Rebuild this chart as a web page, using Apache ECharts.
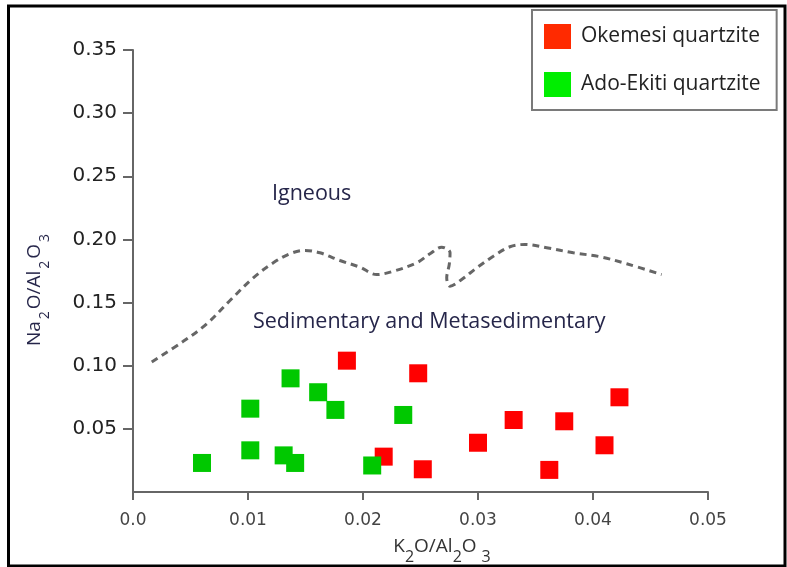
<!DOCTYPE html>
<html><head><meta charset="utf-8">
<script src="https://cdn.jsdelivr.net/npm/echarts@6/dist/echarts.min.js"></script>
<style>html,body{margin:0;padding:0;background:#fff}#c{width:787px;height:567px}</style>
</head><body><div id="c"></div>
<script>
// ---- data ----
const seriesNames = ['Okemesi quartzite', 'Ado-Ekiti quartzite'];
const okemesiX = [0.0186, 0.0218, 0.0248, 0.0252, 0.0300, 0.0331, 0.0375, 0.0362, 0.0410, 0.0423];
const okemesiY = [0.104, 0.028, 0.094, 0.018, 0.039, 0.057, 0.056, 0.0175, 0.037, 0.075];
const adoX = [0.0060, 0.0102, 0.0102, 0.0137, 0.0131, 0.0141, 0.0161, 0.0176, 0.0208, 0.0235];
const adoY = [0.023, 0.066, 0.033, 0.090, 0.029, 0.023, 0.079, 0.065, 0.021, 0.061];
const boundaryX = [0.00163, 0.00437, 0.00641, 0.00843, 0.01046, 0.0122, 0.01365, 0.01496, 0.01626, 0.018, 0.01974, 0.02119, 0.02263, 0.02467, 0.02583, 0.02684, 0.02757, 0.0275, 0.02728, 0.02757, 0.02858, 0.02989, 0.03133, 0.03278, 0.03409, 0.03597, 0.03829, 0.04061, 0.04293, 0.04597];
const boundaryY = [0.1029, 0.1193, 0.1331, 0.1516, 0.1696, 0.1815, 0.1887, 0.1913, 0.1894, 0.1833, 0.178, 0.1722, 0.1748, 0.1815, 0.1887, 0.1939, 0.1894, 0.1802, 0.1696, 0.1629, 0.1683, 0.1775, 0.1867, 0.1942, 0.196, 0.1934, 0.1894, 0.1863, 0.1807, 0.1722];
const fieldLabels = ['Igneous', 'Sedimentary and Metasedimentary'];
const xAxisTitle = '{m|K}{s|2}{m|O/Al}{s|2}{m|O}{t|3}';
const yAxisTitle = '{m|Na}{s|2}{m|O/Al}{s|2}{m|O}{s|3}';

const zip = (xs, ys) => xs.map((x, i) => [x, ys[i]]);

const chart = echarts.init(document.getElementById('c'), null, {renderer: 'canvas'});
const navy = '#26264a';
chart.setOption({
  animation: false,
  backgroundColor: '#ffffff',
  grid: {left: 133, right: 79, top: 50, bottom: 75, containLabel: false, outerBoundsMode: 'none'},
  legend: {
    orient: 'vertical', left: 532, top: 10,
    padding: [14, 16, 13, 12],
    borderColor: '#7a7a7a', borderWidth: 2, backgroundColor: '#fff',
    itemWidth: 27, itemHeight: 25, itemGap: 23,
    icon: 'rect',
    textStyle: {fontFamily: 'Open Sans', fontSize: 21, color: '#222', padding: [0, 0, 0, 5]},
    data: [
      {name: seriesNames[0], itemStyle: {color: '#ff2a00'}},
      {name: seriesNames[1], itemStyle: {color: '#00ee00'}}
    ]
  },
  xAxis: {
    type: 'value', min: 0, max: 0.05, interval: 0.01,
    name: xAxisTitle, nameLocation: 'middle', nameGap: 37,
    nameTextStyle: {
      padding: [0, 0, 0, 43],
      rich: {
        m: {fontFamily: 'Open Sans', fontSize: 19, color: '#333'},
        s: {fontFamily: 'Open Sans', fontSize: 16, color: '#333', padding: [20, 0, 0, 0]},
        t: {fontFamily: 'Open Sans', fontSize: 16, color: '#333', padding: [20, 0, 0, 5]}
      }
    },
    axisLine: {lineStyle: {color: '#666', width: 2}},
    axisTick: {length: 8, lineStyle: {color: '#666', width: 2}},
    axisLabel: {
      margin: 20, fontFamily: 'DejaVu Sans', fontSize: 17, color: '#444',
      formatter: v => v === 0 ? '0.0' : v.toFixed(2)
    },
    splitLine: {show: false}
  },
  yAxis: {
    type: 'value', min: 0, max: 0.35, interval: 0.05,
    name: yAxisTitle, nameLocation: 'middle', nameRotate: 90, nameGap: 81,
    nameTextStyle: {
      padding: [0, 36, 0, 0],
      rich: {
        m: {fontFamily: 'Open Sans', fontSize: 19, color: navy},
        s: {fontFamily: 'Open Sans', fontSize: 14, color: navy, padding: [20, 2, 0, 2]}
      }
    },
    axisLine: {show: true, lineStyle: {color: '#666', width: 2}},
    axisTick: {show: true, length: 10, lineStyle: {color: '#666', width: 2}},
    axisLabel: {
      margin: 16, fontFamily: 'DejaVu Sans', fontSize: 20, color: '#222',
      showMinLabel: false,
      formatter: v => v.toFixed(2)
    },
    splitLine: {show: false}
  },
  series: [
    {
      name: 'boundary', type: 'line', data: zip(boundaryX, boundaryY),
      smooth: 0.35, symbol: 'none', silent: true,
      lineStyle: {color: '#666', width: 3, type: [7, 5]}, z: 1
    },
    {
      name: seriesNames[0], type: 'scatter', data: zip(okemesiX, okemesiY),
      symbol: 'rect', symbolSize: 18, itemStyle: {color: '#ff0000', opacity: 1}, z: 2
    },
    {
      name: seriesNames[1], type: 'scatter', data: zip(adoX, adoY),
      symbol: 'rect', symbolSize: 18, itemStyle: {color: '#00c800', opacity: 1}, z: 3
    }
  ],
  graphic: [
    {type: 'text', left: 272, top: 183, style: {text: fieldLabels[0], fontFamily: 'Open Sans', fontSize: 21.5, fill: navy}},
    {type: 'text', left: 253, top: 311, style: {text: fieldLabels[1], fontFamily: 'Open Sans', fontSize: 21.5, fill: navy}},
    {type: 'rect', shape: {x: 8.5, y: 6, width: 776.5, height: 560}, style: {fill: 'none', stroke: '#000', lineWidth: 3}, silent: true}
  ]
});
</script></body></html>
